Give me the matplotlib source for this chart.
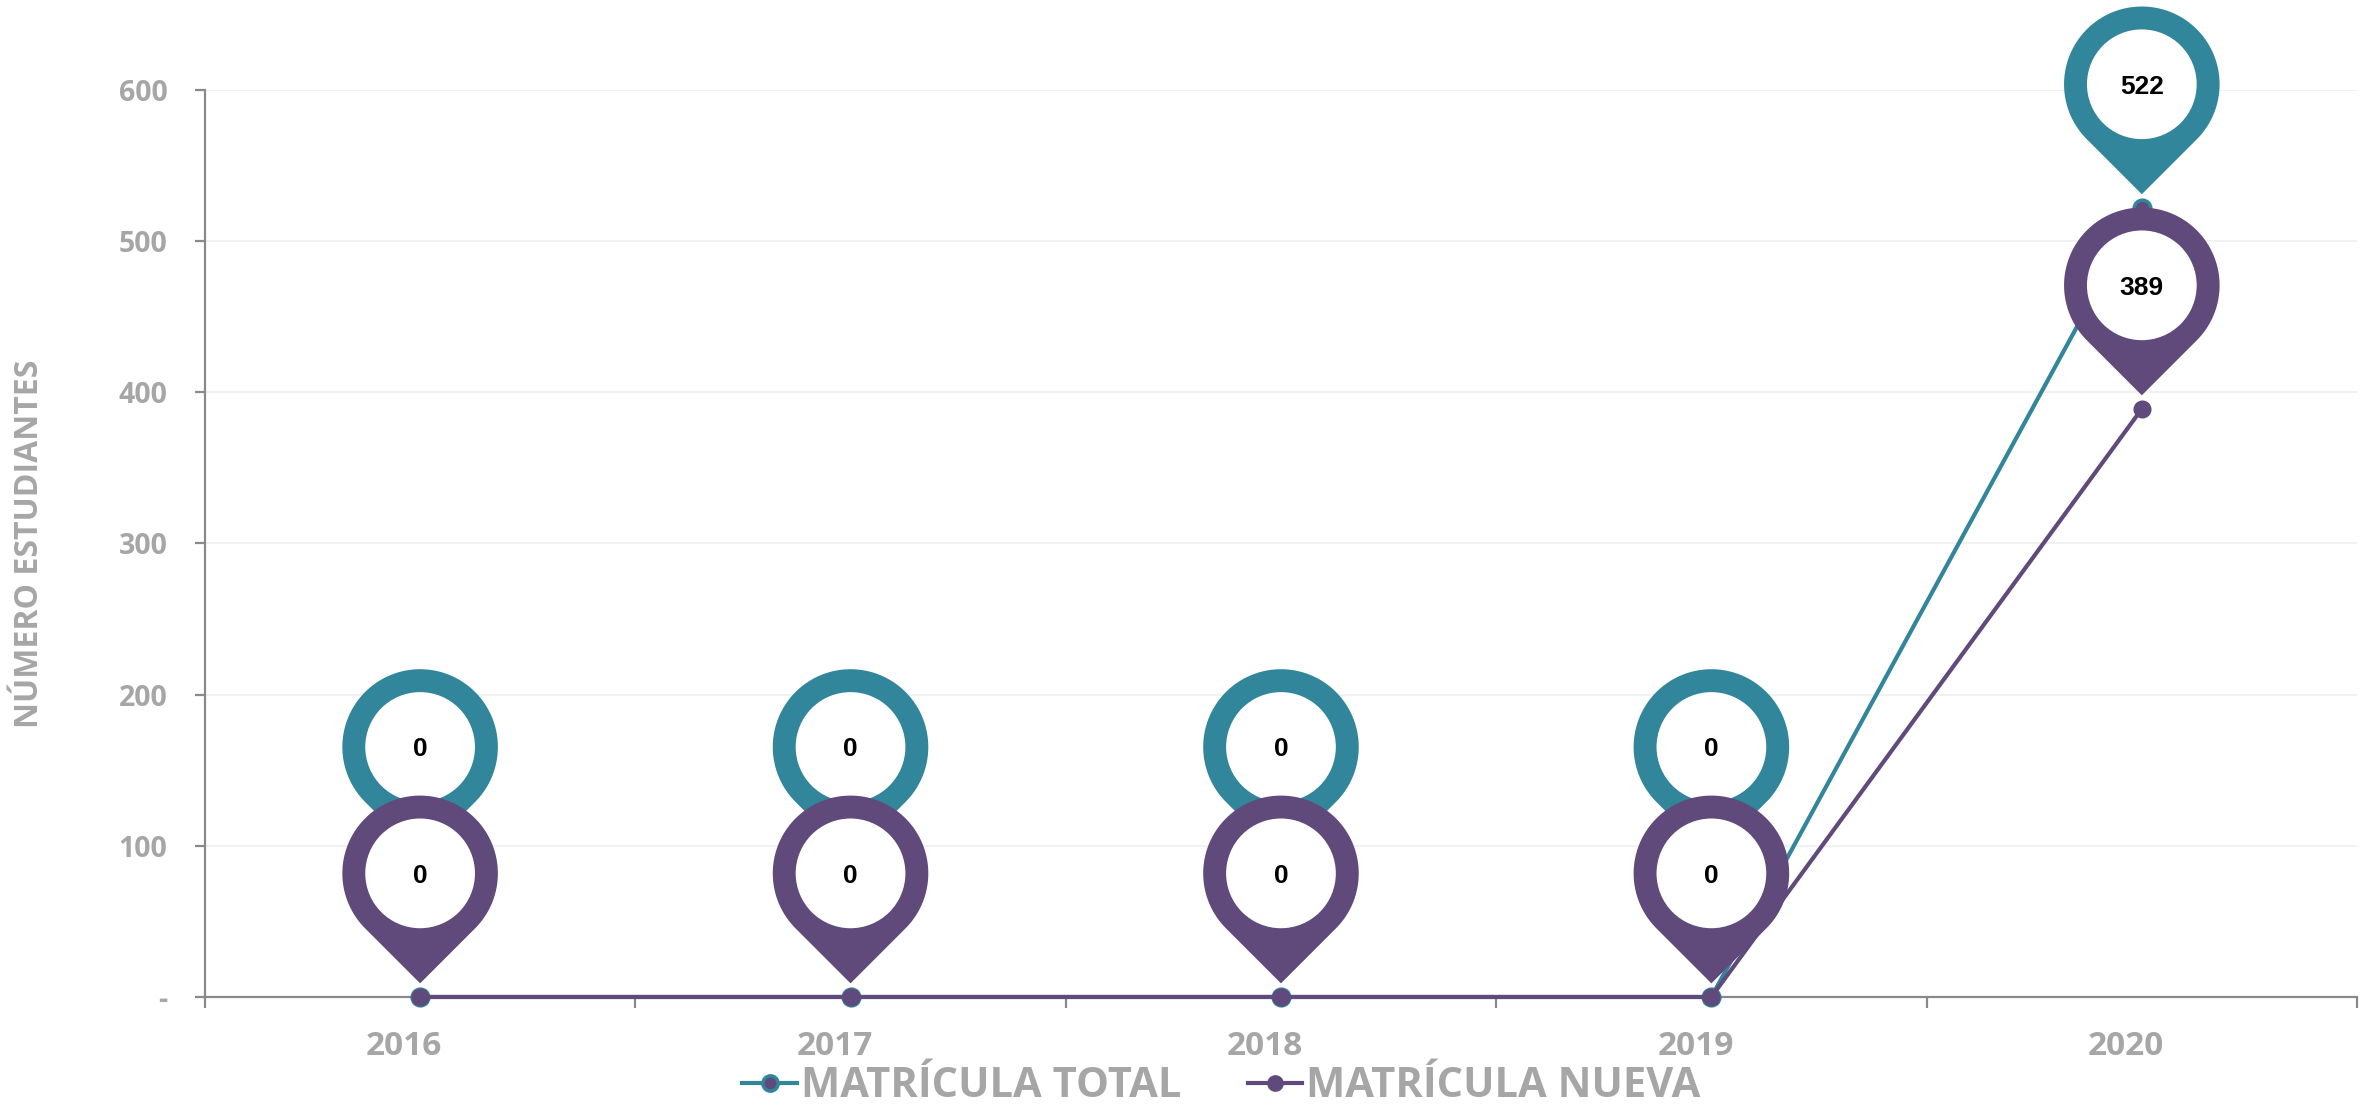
import numpy as np
import matplotlib
matplotlib.use('Agg')
import matplotlib.pyplot as plt
import matplotlib.transforms as mtransforms
from matplotlib.patches import Polygon, Circle
from matplotlib.lines import Line2D

# data
years = ['2016', '2017', '2018', '2019', '2020']
matricula_total = [0, 0, 0, 0, 522]
matricula_nueva = [0, 0, 0, 0, 389]
ytick_values = [0, 100, 200, 300, 400, 500, 600]
ytick_labels = ['-', '100', '200', '300', '400', '500', '600']

TEAL = '#31869B'
PURPLE = '#604A7B'
GRAY = '#A6A6A6'
AXIS_GRAY = '#898989'

plt.rcParams['font.family'] = ['Open Sans', 'DejaVu Sans']
plt.rcParams['font.weight'] = 'bold'

# pin sizes in points
R_OUT = 56
R_IN = 39.5
PIN_NEAR = 89
PIN_FAR = 180


def draw_pin(ax, xi, yi, color, offset, text, z):
    fig = ax.figure
    trans = (mtransforms.Affine2D().scale(1 / 72.) + fig.dpi_scale_trans
             + mtransforms.ScaledTranslation(xi, yi, ax.transData))
    ang = np.linspace(-np.pi / 4, 5 * np.pi / 4, 120)
    pts = np.column_stack([R_OUT * np.cos(ang), offset + R_OUT * np.sin(ang)])
    pts = np.vstack([pts, [0, offset - R_OUT * np.sqrt(2)]])
    ax.add_patch(Polygon(pts, closed=True, facecolor=color, edgecolor='none',
                         transform=trans, zorder=z, clip_on=False))
    ax.add_patch(Circle((0, offset), R_IN, facecolor='white', edgecolor='none',
                        transform=trans, zorder=z + 0.1, clip_on=False))
    ax.text(0, offset, text, transform=trans, ha='center', va='center_baseline',
            fontsize=19, fontweight='bold', family=['Liberation Sans', 'DejaVu Sans'],
            color='black', zorder=z + 0.2, clip_on=False)


fig = plt.figure(figsize=(23.77, 11.08), dpi=100)
ax = fig.add_axes([0.0862, 0.1002, 0.9054, 0.8186])

x = np.arange(len(years))
ax.plot(x, matricula_total, color=TEAL, lw=3, marker='o', ms=12,
        mfc=PURPLE, mec=TEAL, mew=2.5, zorder=3, clip_on=False)
ax.plot(x, matricula_nueva, color=PURPLE, lw=3, marker='o', ms=12,
        mfc=PURPLE, mec=PURPLE, zorder=3.1, clip_on=False)

ax.set_xlim(-0.5, len(years) - 0.5)
ax.set_ylim(0, 600)

# pins with data labels
for xi, t, n in zip(x, matricula_total, matricula_nueva):
    teal_off = PIN_FAR if t == n else PIN_NEAR
    draw_pin(ax, xi, t, TEAL, teal_off, f'{t}', 4)
    draw_pin(ax, xi, n, PURPLE, PIN_NEAR, f'{n}', 5)

# axes styling
for side in ['top', 'right']:
    ax.spines[side].set_visible(False)
for side in ['left', 'bottom']:
    ax.spines[side].set_color(AXIS_GRAY)
    ax.spines[side].set_linewidth(1.6)

ax.set_yticks(ytick_values)
ax.set_yticklabels(ytick_labels)
ax.tick_params(axis='y', length=7, width=1.6, color=AXIS_GRAY, pad=20,
               labelsize=20.5, labelcolor=GRAY)
ax.yaxis.grid(True, color='#EFEFEF', lw=1.2)
ax.set_axisbelow(True)

ax.set_xticks(np.arange(len(years) + 1) - 0.5)
ax.set_xticklabels([])
ax.set_xticks(x, minor=True)
ax.set_xticklabels(years, minor=True)
ax.tick_params(axis='x', which='major', length=8, width=1.6, color=AXIS_GRAY)
ax.tick_params(axis='x', which='minor', length=0, pad=24, labelsize=24, labelcolor=GRAY)
shift = mtransforms.ScaledTranslation(-0.16, 0, fig.dpi_scale_trans)
for lbl in ax.xaxis.get_minorticklabels():
    lbl.set_transform(lbl.get_transform() + shift)

fig.text(30 / 2377, 1 - 544 / 1108, 'NÚMERO ESTUDIANTES', rotation=90,
         ha='center', va='center', fontsize=23, color=GRAY, fontweight='bold')

handles = [
    Line2D([], [], color=TEAL, lw=3, marker='o', ms=11, mfc=PURPLE, mec=TEAL, mew=2.5),
    Line2D([], [], color=PURPLE, lw=3, marker='o', ms=11, mfc=PURPLE, mec=PURPLE),
]
fig.legend(handles, ['MATRÍCULA TOTAL', 'MATRÍCULA NUEVA'], loc='center',
           bbox_to_anchor=(0.5139, 0.019), ncol=2, frameon=False,
           prop={'family': 'Open Sans', 'weight': 'bold', 'size': 30},
           labelcolor=GRAY, handlelength=1.3, handletextpad=0.1,
           columnspacing=1.6, borderpad=0)

fig.savefig('out.png', dpi=100)
